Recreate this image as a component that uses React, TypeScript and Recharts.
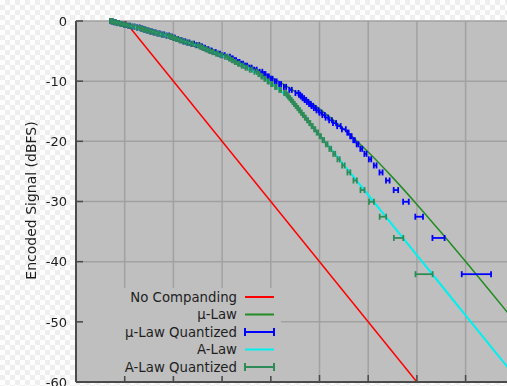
import React from "react";
import {
  ComposedChart,
  Line,
  Scatter,
  ErrorBar,
  XAxis,
  YAxis,
  CartesianGrid,
  Legend,
} from "recharts";

// x = input level below reference (dB), y = encoded signal (dBFS)
const NO_COMP_X = [0, 60];
const NO_COMP_Y = [0, -60];

const MU_LAW_X = [-3, 0, 5, 10, 15, 20, 25, 30, 35, 40, 45, 50, 55, 60, 65, 70, 75, 80, 85, 90];
const MU_LAW_Y = [
  0, -0.56, -1.57, -2.7, -4.0, -5.49, -7.23, -9.29, -11.73, -14.61, -17.97, -21.78, -25.99, -30.48,
  -35.17, -39.99, -44.89, -49.83, -54.79, -59.77,
];

const A_LAW_X = [-3, 0, 5, 10, 15, 20, 25, 27.5, 30, 32.5, 35, 35.85, 40, 45, 50, 55, 60, 65, 70, 75, 80, 81.08];
const A_LAW_Y = [
  0, -0.57, -1.6, -2.78, -4.13, -5.75, -7.72, -8.91, -10.29, -11.93, -13.95, -14.76, -18.92, -23.92,
  -28.92, -33.92, -38.92, -43.92, -48.92, -53.92, -58.92, -60,
];

// quantized code levels (same for both laws)
const Q_LEVEL = [
  -42.08, -36.06, -32.53, -30.04, -28.1, -26.51, -25.17, -24.01,
  -22.99, -22.08, -21.25, -20.49, -19.8, -19.15, -18.55, -17.99,
  -17.47, -16.97, -16.5, -16.06, -15.63, -15.23, -14.84, -14.47,
  -14.12, -13.78, -13.45, -13.13, -12.83, -12.53, -12.25,
  -11.97, -11.45, -10.95, -10.48, -10.04, -9.61, -9.21, -8.82,
  -8.45, -8.1, -7.76, -7.43, -7.11, -6.81, -6.51, -6.23,
  -5.95, -5.69, -5.43, -5.17, -4.93, -4.69, -4.46, -4.23,
  -4.01, -3.8, -3.59, -3.39, -3.19, -2.99, -2.8, -2.61,
  -2.43, -2.25, -2.08, -1.9, -1.74, -1.57, -1.41, -1.25,
  -1.09, -0.94, -0.79, -0.64, -0.49, -0.35, -0.21, -0.07,
  0,
];

// input range (x) that maps onto each level
const MU_Q_LO = [
  69.21, 63.19, 59.67, 57.17, 55.23, 53.65, 52.31, 51.15,
  50.13, 49.21, 48.38, 47.63, 46.93, 46.29, 45.69, 44.6,
  43.63, 42.77, 41.98, 41.25, 40.58, 39.96, 39.38, 38.84,
  38.33, 37.85, 37.39, 36.95, 36.54, 36.15, 35.77,
  35.06, 33.79, 32.69, 31.71, 30.83, 30.03, 29.3, 28.62,
  27.7, 26.6, 25.63, 24.75, 23.96, 23.23, 22.56, 21.94,
  21.08, 20.05, 19.13, 18.3, 17.55, 16.85, 16.2, 15.6,
  14.77, 13.78, 12.88, 12.07, 11.33, 10.65, 10.02, 9.43,
  8.61, 7.63, 6.75, 5.95, 5.22, 4.54, 3.92, 3.33,
  2.52, 1.55, 0.68, -0.12, -0.85, -1.52, -2.14, -2.72,
  -3.0,
];
const MU_Q_HI = [
  75.23, 65.69, 61.25, 58.33, 56.15, 54.4, 52.95, 51.71,
  50.62, 49.66, 48.79, 48.0, 47.27, 46.6, 45.98, 45.4,
  44.35, 43.41, 42.56, 41.79, 41.08, 40.42, 39.81, 39.24,
  38.71, 38.21, 37.73, 37.28, 36.85, 36.44, 36.05,
  35.68, 34.32, 33.15, 32.12, 31.2, 30.37, 29.61, 28.91,
  28.26, 27.1, 26.07, 25.15, 24.32, 23.57, 22.87, 22.22,
  21.62, 20.53, 19.57, 18.7, 17.9, 17.18, 16.51, 15.89,
  15.31, 14.25, 13.31, 12.46, 11.69, 10.98, 10.32, 9.71,
  9.14, 8.11, 7.18, 6.34, 5.58, 4.87, 4.22, 3.62,
  3.05, 2.02, 1.1, 0.27, -0.49, -1.19, -1.84, -2.44,
  -2.73,
];
const A_Q_LO = [
  59.71, 55.27, 52.35, 50.17, 48.42, 46.97, 45.73, 44.64,
  43.68, 42.81, 42.02, 41.29, 40.62, 40.0, 39.42, 38.88,
  38.37, 37.89, 37.43, 36.99, 36.58, 36.19, 35.81, 35.45,
  35.1, 34.76, 34.44, 34.13, 33.83, 33.54, 33.26,
  32.73, 31.75, 30.87, 30.07, 29.34, 28.66, 28.04, 27.45,
  26.64, 25.67, 24.8, 24.0, 23.27, 22.6, 21.98, 21.4,
  20.59, 19.62, 18.75, 17.96, 17.23, 16.56, 15.94, 15.36,
  14.55, 13.59, 12.72, 11.92, 11.2, 10.53, 9.91, 9.33,
  8.53, 7.56, 6.69, 5.9, 5.17, 4.5, 3.88, 3.3,
  2.5, 1.53, 0.66, -0.13, -0.85, -1.52, -2.14, -2.72,
  -3.0,
];
const A_Q_HI = [
  63.23, 57.21, 53.69, 51.19, 49.25, 47.67, 46.33, 45.17,
  44.15, 43.23, 42.4, 41.65, 40.95, 40.31, 39.71, 39.15,
  38.62, 38.12, 37.65, 37.21, 36.79, 36.38, 36.0, 35.63,
  35.27, 34.93, 34.6, 34.29, 33.98, 33.69, 33.4,
  33.13, 32.1, 31.19, 30.36, 29.61, 28.91, 28.27, 27.67,
  27.11, 26.08, 25.17, 24.34, 23.58, 22.89, 22.25, 21.65,
  21.09, 20.06, 19.15, 18.32, 17.56, 16.87, 16.22, 15.63,
  15.07, 14.04, 13.13, 12.3, 11.54, 10.85, 10.2, 9.6,
  9.04, 8.02, 7.11, 6.28, 5.52, 4.83, 4.18, 3.58,
  3.02, 2.0, 1.09, 0.26, -0.5, -1.19, -1.84, -2.44,
  -2.72,
];

const X_TICKS = [-10, 0, 10, 20, 30, 40, 50, 60, 70, 80, 90];
const Y_TICKS = [-60, -50, -40, -30, -20, -10, 0];

const SERIES_NAMES = ["No Companding", "\u03bc-Law", "\u03bc-Law Quantized", "A-Law", "A-Law Quantized"];
const SERIES_COLORS = ["#ff0000", "#228b22", "#0000ff", "#00f0f0", "#2e8b57"];
const SERIES_BARS = [false, false, true, false, true];

const FONT = "'DejaVu Sans', sans-serif";
const PLOT_BG = "#bfbfbf";
const GRID = "#a1a1a1";
const BORDER = "#4a4a4a";
const TEXT = "#1e1e1e";

const toLine = (xs: number[], ys: number[]) => xs.map((x, i) => ({ x, y: ys[i] }));
const toQuant = (lo: number[], hi: number[]) =>
  Q_LEVEL.map((y, i) => ({ x: (lo[i] + hi[i]) / 2, y, ex: (hi[i] - lo[i]) / 2 }));

const noComp = toLine(NO_COMP_X, NO_COMP_Y);
const muLaw = toLine(MU_LAW_X, MU_LAW_Y);
const aLaw = toLine(A_LAW_X, A_LAW_Y);
const muQuant = toQuant(MU_Q_LO, MU_Q_HI);
const aQuant = toQuant(A_Q_LO, A_Q_HI);

function LeftTick(props: any) {
  const { x, y, payload } = props;
  return (
    <g>
      <text x={x} y={y} dy="0.36em" textAnchor="end" fontFamily={FONT} fontSize={13} fill={TEXT}>
        {payload.value}
      </text>
      <line x1={x + 9} x2={x + 16} y1={y} y2={y} stroke={BORDER} strokeWidth={1.5} />
    </g>
  );
}

function TopTick(props: any) {
  const { x, y } = props;
  return <line x1={x} x2={x} y1={y} y2={y + 7} stroke={BORDER} strokeWidth={1.5} />;
}

function BottomTick(props: any) {
  const { x, y } = props;
  return <line x1={x} x2={x} y1={y} y2={y - 7} stroke={BORDER} strokeWidth={1.5} />;
}

function AxisTitle(props: any) {
  const vb = props.viewBox;
  const cx = vb.x + 15;
  const cy = vb.y + vb.height / 2 - 1;
  return (
    <text
      x={cx}
      y={cy}
      transform={`rotate(-90 ${cx} ${cy})`}
      textAnchor="middle"
      dominantBaseline="central"
      fontFamily={FONT}
      fontSize={14}
      fill={TEXT}
    >
      Encoded Signal (dBFS)
    </text>
  );
}

function Key() {
  return (
    <svg width={198} height={88} style={{ display: "block" }}>
      <rect width={198} height={88} fill={PLOT_BG} />
      {SERIES_NAMES.map((name, i) => {
        const cy = 9 + i * 17.5;
        const c = SERIES_COLORS[i];
        return (
          <g key={name}>
            <text x={154} y={cy} dy="0.36em" textAnchor="end" fontFamily={FONT} fontSize={13.3} fill={TEXT}>
              {name}
            </text>
            <line x1={162} x2={191} y1={cy} y2={cy} stroke={c} strokeWidth={2} />
            {SERIES_BARS[i] && (
              <g>
                <line x1={162} x2={162} y1={cy - 4} y2={cy + 4} stroke={c} strokeWidth={2} />
                <line x1={191} x2={191} y1={cy - 4} y2={cy + 4} stroke={c} strokeWidth={2} />
              </g>
            )}
          </g>
        );
      })}
    </svg>
  );
}

const noMarker = () => <g />;

export default function App() {
  return (
    <div
      style={{
        position: "fixed",
        left: 0,
        top: 0,
        width: 507,
        height: 386,
        overflow: "hidden",
        background: "repeating-conic-gradient(#efefef 0% 25%, #ffffff 0% 50%) 0 0 / 10px 10px",
      }}
    >
      <ComposedChart width={600} height={420} margin={{ top: 21, right: 37, bottom: 18, left: 16 }}>
        <CartesianGrid fill={PLOT_BG} fillOpacity={1} stroke={GRID} strokeWidth={1.5} />
        <XAxis
          type="number"
          dataKey="x"
          domain={[-10, 90]}
          ticks={X_TICKS}
          interval={0}
          allowDataOverflow
          height={20}
          axisLine={{ stroke: BORDER, strokeWidth: 2 }}
          tickLine={false}
          tickSize={0}
          tickMargin={0}
          tick={BottomTick}
        />
        <XAxis
          xAxisId="top"
          orientation="top"
          type="number"
          domain={[-10, 90]}
          ticks={X_TICKS}
          interval={0}
          allowDataOverflow
          height={0}
          axisLine={{ stroke: BORDER, strokeWidth: 2 }}
          tickLine={false}
          tickSize={0}
          tickMargin={0}
          tick={TopTick}
        />
        <YAxis
          type="number"
          domain={[-60, 0]}
          ticks={Y_TICKS}
          interval={0}
          allowDataOverflow
          width={60}
          axisLine={{ stroke: BORDER, strokeWidth: 2 }}
          tickLine={false}
          tickSize={0}
          tickMargin={9}
          tick={LeftTick}
          label={{ value: "Encoded Signal (dBFS)", content: AxisTitle }}
        />
        <Legend
          layout="vertical"
          align="center"
          verticalAlign="middle"
          content={() => <Key />}
          wrapperStyle={{ left: 83, top: 288, width: 198, height: 88 }}
        />
        <Line
          data={noComp}
          dataKey="y"
          type="linear"
          stroke={SERIES_COLORS[0]}
          strokeWidth={1.5}
          dot={false}
          isAnimationActive={false}
        />
        <Line
          data={muLaw}
          dataKey="y"
          type="monotone"
          stroke={SERIES_COLORS[1]}
          strokeWidth={1.5}
          dot={false}
          isAnimationActive={false}
        />
        <Scatter data={muQuant} dataKey="y" shape={noMarker} isAnimationActive={false}>
          <ErrorBar dataKey="ex" direction="x" width={3} stroke={SERIES_COLORS[2]} strokeWidth={1.8} isAnimationActive={false} />
        </Scatter>
        <Line
          data={aLaw}
          dataKey="y"
          type="linear"
          stroke={SERIES_COLORS[3]}
          strokeWidth={2}
          dot={false}
          isAnimationActive={false}
        />
        <Scatter data={aQuant} dataKey="y" shape={noMarker} isAnimationActive={false}>
          <ErrorBar dataKey="ex" direction="x" width={3} stroke={SERIES_COLORS[4]} strokeWidth={1.8} isAnimationActive={false} />
        </Scatter>
      </ComposedChart>
    </div>
  );
}
